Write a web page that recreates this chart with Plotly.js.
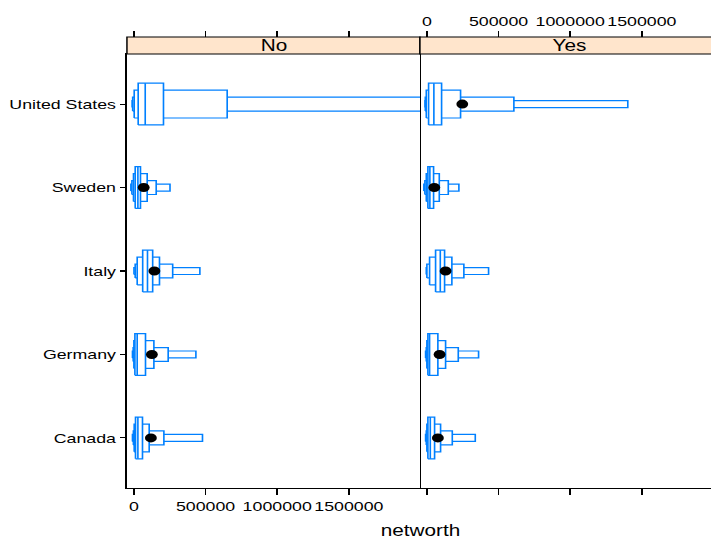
<!DOCTYPE html>
<html><head><meta charset="utf-8">
<script src="https://cdn.plot.ly/plotly-3.0.1.min.js"></script>
<style>
html,body{margin:0;padding:0;overflow:hidden;background:#fff;width:711px;height:539px}
#chart{width:480px;height:480px;transform:scale(1.48125,1.122917);transform-origin:0 0;}
</style></head><body><div id="chart"></div>
<script>
// ---- data ----
const countries = ["Canada", "Germany", "Italy", "Sweden", "United States"];
const panels = ["No", "Yes"];
const xTickVals = [0, 500000, 1000000, 1500000];
const xTickText = ["0", "500000", "1000000", "1500000"];

// letter values, panel "No"
const F_lo_no = [11200, 7000, 61400, 9100, 30000];
const F_hi_no = [60000, 81000, 131000, 46000, 206500];
const E_lo_no = [2100, 0, 23000, -2800, 2100];
const E_hi_no = [106700, 139500, 178600, 92800, 651000];
const D_lo_no = [-3500, -4900, 9000, -14000, -8400];
const D_hi_no = [209300, 239300, 270700, 155600, 2600000];
const C_lo_no = [-9800, -9800, 700, -21000, -12000];
const C_hi_no = [478600, 432600, 460500, 252000, 5000000];
const median_no = [27900, 23000, 94900, 27900, 79000];
const mean_no = [118600, 125600, 143000, 68400, 2300000];

// letter values, panel "Yes"
const F_lo_yes = [7000, 7000, 60700, 7000, 11900];
const F_hi_yes = [53700, 76700, 123500, 46700, 102600];
const E_lo_yes = [0, 0, 18800, -4200, -4200];
const E_hi_yes = [95600, 130500, 174400, 86500, 235000];
const D_lo_yes = [-4200, -4200, 0, -14000, -11000];
const D_hi_yes = [177200, 219000, 258100, 149300, 607000];
const C_lo_yes = [-9000, -9000, -4200, -21000, -12500];
const C_hi_yes = [337700, 360700, 430500, 223300, 1402000];
const median_yes = [23700, 18800, 93500, 20900, 48800];
const mean_yes = [76700, 88600, 130500, 51600, 247000];

// ---- drawing ----
const W = 480, H = 480;
const L = 85.7, M = 283.5, R = 480, T = 48.1, B = 434.6, S = 32.9;
const fx = p => p / W, fy = p => (H - p) / H;
const blue = "#0080ff";
const FONT = "Liberation Sans, Arial, sans-serif";
const xr1 = [-48500, 1996000];
const xr2 = [-48500, -48500 + (R - M) * (xr1[1] - xr1[0]) / (M - L)];
const halfH = [0.25, 0.1667, 0.0833, 0.0417]; // F, E, D, C

function boxTrace(lo, hi, h, xa, ya) {
  const x = [], y = [];
  countries.forEach((c, i) => {
    x.push(lo[i], hi[i], hi[i], lo[i], lo[i], null);
    y.push(i - h, i - h, i + h, i + h, i - h, null);
  });
  return {type: "scatter", mode: "lines", x, y, xaxis: xa, yaxis: ya,
    fill: "toself", fillcolor: "#ffffff", line: {color: blue, width: 1.1},
    hoverinfo: "skip", showlegend: false};
}
function medTrace(med, xa, ya) {
  const x = [], y = [];
  countries.forEach((c, i) => { x.push(med[i], med[i], null); y.push(i - halfH[0], i + halfH[0], null); });
  return {type: "scatter", mode: "lines", x, y, xaxis: xa, yaxis: ya,
    line: {color: blue, width: 1.1}, hoverinfo: "skip", showlegend: false};
}
function dotTrace(mean, xa, ya) {
  return {type: "scatter", mode: "markers", x: mean, y: countries.map((c, i) => i),
    xaxis: xa, yaxis: ya, cliponaxis: true,
    marker: {color: "#000000", size: 8}, hoverinfo: "skip", showlegend: false};
}

const sets = [
  {xa: "x", ya: "y", xt: "x3", lv: [[C_lo_no, C_hi_no], [D_lo_no, D_hi_no], [E_lo_no, E_hi_no], [F_lo_no, F_hi_no]], med: median_no, mean: mean_no},
  {xa: "x2", ya: "y2", xt: "x4", lv: [[C_lo_yes, C_hi_yes], [D_lo_yes, D_hi_yes], [E_lo_yes, E_hi_yes], [F_lo_yes, F_hi_yes]], med: median_yes, mean: mean_yes}
];
const data = [];
sets.forEach(s => {
  s.lv.forEach((pair, k) => data.push(boxTrace(pair[0], pair[1], halfH[3 - k], s.xa, s.ya)));
  data.push(medTrace(s.med, s.xa, s.ya));
  data.push(dotTrace(s.mean, s.xt, s.ya));
});

const tickFont = {family: FONT, size: 12, color: "#000"};
const baseX = {tickmode: "array", tickvals: xTickVals, ticktext: xTickText, ticks: "outside",
  ticklen: 5, tickwidth: 1, tickcolor: "#000", showgrid: false, zeroline: false,
  tickangle: 0, tickfont: tickFont, fixedrange: true};
const layout = {
  width: W, height: H, margin: {l: 0, r: 0, t: 0, b: 0},
  paper_bgcolor: "#fff", plot_bgcolor: "#fff", showlegend: false,
  font: {family: FONT, color: "#000"},
  xaxis: Object.assign({}, baseX, {domain: [fx(L), fx(M)], anchor: "y", range: xr1,
    showline: true, mirror: true, linecolor: "#000", linewidth: 1}),
  xaxis2: Object.assign({}, baseX, {domain: [fx(M), fx(R)], anchor: "y2", range: xr2,
    showticklabels: false, showline: true, mirror: true, linecolor: "#000", linewidth: 1}),
  xaxis3: Object.assign({}, baseX, {overlaying: "x", side: "top", anchor: "free", position: fy(S),
    range: xr1, showticklabels: false, showline: false}),
  xaxis4: Object.assign({}, baseX, {overlaying: "x2", side: "top", anchor: "free", position: fy(S),
    range: xr2, showticklabels: true, showline: false}),
  yaxis: {domain: [fy(B), fy(T)], anchor: "x", range: [-0.6, 4.6], tickmode: "array",
    tickvals: countries.map((c, i) => i), ticktext: countries, ticks: "outside", ticklen: 4,
    tickcolor: "#000", showgrid: false, zeroline: false, showline: true, mirror: true,
    linecolor: "#000", linewidth: 1, tickfont: tickFont, fixedrange: true},
  yaxis2: {domain: [fy(B), fy(T)], anchor: "x2", range: [-0.6, 4.6], showticklabels: false,
    ticks: "", showgrid: false, zeroline: false, showline: false, fixedrange: true},
  shapes: [
    {type: "rect", xref: "paper", yref: "paper", x0: fx(L), x1: fx(M), y0: fy(T), y1: fy(S),
      fillcolor: "#ffe5cc", line: {color: "#000", width: 1}, layer: "above"},
    {type: "rect", xref: "paper", yref: "paper", x0: fx(M), x1: fx(R) + 0.01, y0: fy(T), y1: fy(S),
      fillcolor: "#ffe5cc", line: {color: "#000", width: 1}, layer: "above"}
  ],
  annotations: [
    {text: panels[0], xref: "paper", yref: "paper", x: (fx(L) + fx(M)) / 2, y: (fy(T) + fy(S)) / 2,
      xanchor: "center", yanchor: "middle", showarrow: false, font: {family: FONT, size: 14, color: "#000"}},
    {text: panels[1], xref: "paper", yref: "paper", x: (fx(M) + fx(R) + 0.01) / 2, y: (fy(T) + fy(S)) / 2,
      xanchor: "center", yanchor: "middle", showarrow: false, font: {family: FONT, size: 14, color: "#000"}},
    {text: "networth", xref: "paper", yref: "paper", x: fx(M), y: fy(472),
      xanchor: "center", yanchor: "middle", showarrow: false, font: {family: FONT, size: 14, color: "#000"}}
  ]
};
Plotly.newPlot("chart", data, layout, {staticPlot: true, displayModeBar: false});
</script></body></html>
